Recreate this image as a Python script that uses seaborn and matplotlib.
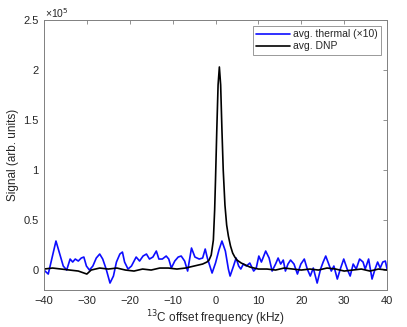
import matplotlib
matplotlib.use("Agg")
import matplotlib.pyplot as plt
import seaborn as sns

# offset frequency (kHz) and signal (units of 1e5)
thermal_f = [-40, -39, -37.2, -35.5, -34.7, -33.9, -33.3, -32.7, -32.0, -31.3, -30.7, -30.1,
             -29.4, -28.6, -27.8, -27.0, -26.3, -25.5, -24.6, -23.8, -23.1, -22.3, -21.7,
             -21.2, -20.4, -19.6, -18.5, -17.7, -16.9, -16.1, -15.4, -14.6, -13.8, -13.2,
             -12.4, -11.5, -10.9, -10.3, -9.5, -8.7, -8.0, -7.2, -6.5, -5.6, -4.8, -3.8,
             -3.0, -2.4, -1.9, -0.8, 0, 0.8, 1.5, 2.3, 3.0, 3.4, 4.2, 4.8, 5.4, 5.9, 6.5,
             7.2, 8.0, 8.9, 9.5, 10.1, 10.7, 11.7, 12.5, 13.2, 14.0, 14.6, 15.2, 15.8, 16.3,
             16.9, 17.5, 18.3, 19.1, 19.9, 20.7, 21.4, 22.1, 22.8, 23.7, 24.5, 25.1, 25.7,
             26.4, 27.0, 27.6, 28.4, 29.1, 29.9, 30.7, 31.4, 32.1, 32.8, 33.6, 34.4, 34.9,
             35.7, 36.5, 37.2, 37.8, 38.4, 39.0, 39.6, 40]
thermal_v = [0.0, -0.04, 0.29, 0.04, 0.0, 0.11, 0.08, 0.11, 0.09, 0.12, 0.13, 0.04,
             0.0, 0.04, 0.12, 0.16, 0.11, 0.01, -0.13, -0.06, 0.08, 0.16, 0.18,
             0.08, 0.01, 0.04, 0.13, 0.09, 0.14, 0.16, 0.11, 0.13, 0.19, 0.11,
             0.11, 0.14, 0.11, 0.02, 0.09, 0.13, 0.14, 0.09, -0.01, 0.22, 0.13, 0.11,
             0.12, 0.21, 0.12, -0.03, 0.07, 0.20, 0.29, 0.19, 0.01, -0.06, 0.04, 0.12, 0.04, 0.01, 0.06,
             0.04, 0.07, -0.01, 0.02, 0.14, 0.08, 0.19, 0.12, -0.01, 0.06, 0.12, 0.06, 0.10, -0.01,
             0.06, 0.10, 0.06, -0.04, 0.06, 0.11, 0.01, -0.06, 0.02, -0.13, 0.01, 0.08, 0.14,
             0.06, -0.01, 0.04, -0.09, 0.01, 0.11, 0.01, -0.06, 0.06, 0.01, 0.11, 0.08, 0.01,
             0.11, -0.09, 0.01, 0.08, 0.02, 0.08, 0.09, 0.01]

dnp_f = [-40, -38, -36, -34, -32, -30, -29, -27, -25, -23, -21, -19, -17, -15, -13, -11,
         -9, -7, -5, -4, -3, -2, -1.5, -1, -0.5, -0.2, 0, 0.3, 0.6, 0.9, 1.2, 1.5, 1.8,
         2.2, 2.6, 3.0, 3.5, 4, 4.5, 5, 6, 7, 8, 9, 10, 12, 14, 16, 18, 20, 22, 24, 26,
         28, 30, 32, 34, 36, 38, 40]
dnp_v = [0.01, 0.02, 0.01, 0.0, -0.01, -0.04, 0.0, 0.02, 0.01, 0.02, 0.0, -0.01, 0.01, 0.0, 0.02, 0.02,
         0.01, 0.02, 0.04, 0.05, 0.06, 0.08, 0.10, 0.15, 0.30, 0.60, 0.90, 1.40, 1.85, 2.03, 1.85, 1.40, 1.00,
         0.65, 0.45, 0.34, 0.24, 0.17, 0.13, 0.10, 0.07, 0.05, 0.03, 0.02, 0.01, 0.01, 0.0, 0.02, 0.01, 0.0, 0.01, 0.0, 0.02,
         0.01, -0.01, 0.0, 0.01, -0.01, 0.01, 0.0]

xticks = [-40, -30, -20, -10, 0, 10, 20, 30, 40]
yticks = [0, 0.5, 1, 1.5, 2, 2.5]
ytick_labels = ["0", "0.5", "1", "1.5", "2", "2.5"]

sns.set_style("white")
plt.rcParams['font.family'] = ['Liberation Sans', 'DejaVu Sans']

fig = plt.figure(figsize=(4.07, 3.27), dpi=100)
ax = fig.add_axes([0.108, 0.113, 0.843, 0.826])

sns.lineplot(x=thermal_f, y=thermal_v, color=(0.05, 0.05, 1.0), lw=1.2, sort=False,
             label="avg. thermal (\u00d710)", ax=ax, solid_joinstyle="round")
sns.lineplot(x=dnp_f, y=dnp_v, color="black", lw=1.2, sort=False,
             label="avg. DNP", ax=ax, solid_joinstyle="round")

ax.set_xlim(-40, 40)
ax.set_ylim(-0.2, 2.5)
ax.set_xticks(xticks)
ax.set_yticks(yticks, labels=ytick_labels)
ax.tick_params(direction="in", length=3, width=0.6, colors="#808080",
               labelcolor="#262626", labelsize=8, top=True, right=True, pad=4)
for s in ax.spines.values():
    s.set_color("#808080")
    s.set_linewidth(0.7)

ax.set_xlabel("$^{13}$C offset frequency (kHz)", fontsize=8.5, color="#262626", labelpad=2)
ax.set_ylabel("Signal (arb. units)", fontsize=8.5, color="#262626", labelpad=3)
fig.text(0.111, 0.94, "\u00d710$^5$", fontsize=7.5, color="#262626", ha="left", va="bottom")

leg = ax.legend(loc="upper right", fontsize=7.5, frameon=True, fancybox=False,
                edgecolor="#808080", borderpad=0.3, labelspacing=0.2,
                handlelength=3.2, handletextpad=0.3, borderaxespad=0.6)
leg.get_frame().set_linewidth(0.7)

# make sure the top tick (2.5) survives the view-interval check
fig.canvas.draw()
drawn = [t.get_loc() for t in ax.yaxis._update_ticks()]
if max(drawn) < 2.5:
    ax.set_ylim(-0.2, 2.5005)

fig.savefig("out.png", dpi=100)
